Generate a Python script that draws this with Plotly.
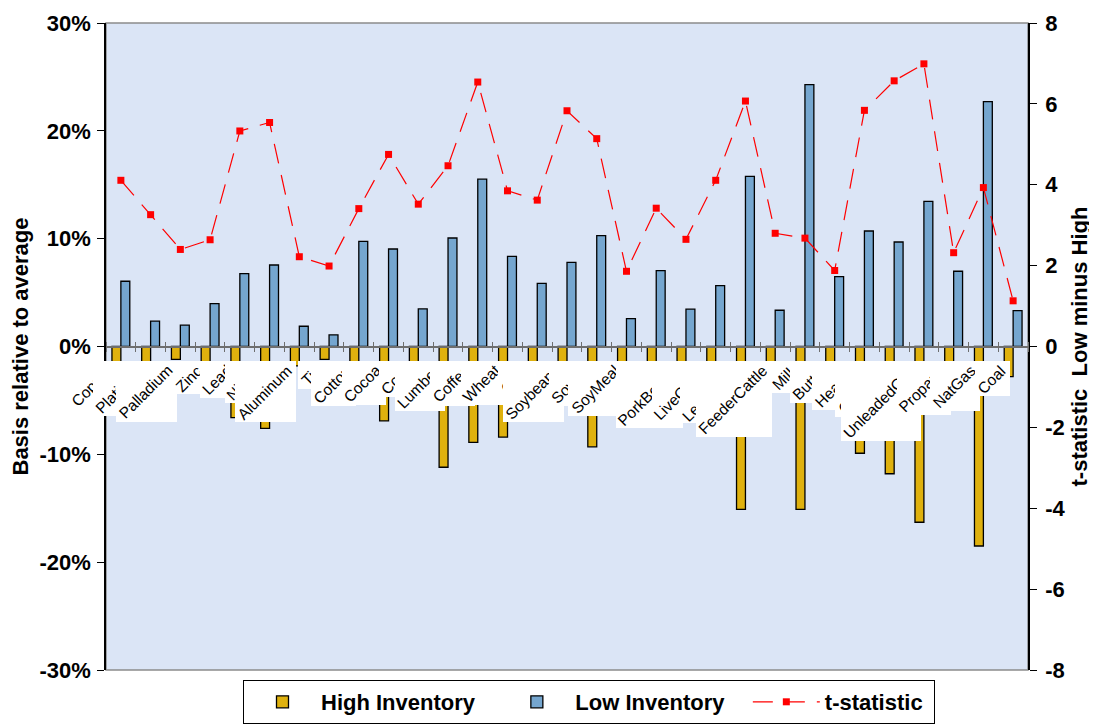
import plotly.graph_objects as go

# ---------------- data ----------------
categories = [
    "Copper", "Platinum", "Palladium", "Zinc", "Lead", "Nickel", "Aluminum", "Tin",
    "Cotton", "Cocoa", "Corn", "Lumber", "Coffee", "Wheat", "Oats", "Soybeans",
    "SoyOil", "SoyMeal", "Rice", "PorkBellies", "LiveCattle", "LeanHogs",
    "FeederCattle", "Milk", "Butter", "HeatOil", "CrudeOil", "UnleadedGas",
    "Propane", "NatGas", "Coal",
]
high_inventory = [
    -2.0, -1.8, -1.2, -1.6, -6.6, -7.6, -1.8, -1.2, -2.2, -6.9, -1.8, -11.2,
    -8.9, -8.4, -2.5, -2.0, -9.3, -2.8, -2.0, -2.5, -3.0, -15.1, -1.8, -15.1,
    -2.5, -9.9, -11.8, -16.3, -3.0, -18.5, -2.8,
]
low_inventory = [
    6.05, 2.35, 1.98, 3.98, 6.76, 7.56, 1.88, 1.08, 9.75, 9.04, 3.49, 10.06,
    15.52, 8.36, 5.86, 7.81, 10.28, 2.59, 7.04, 3.46, 5.65, 15.77, 3.36, 24.29,
    6.48, 10.71, 9.69, 13.46, 6.98, 22.71, 3.33,
]
t_statistic = [
    4.11, 3.26, 2.40, 2.64, 5.33, 5.54, 2.22, 1.99, 3.41, 4.75, 3.52, 4.47,
    6.54, 3.85, 3.62, 5.83, 5.14, 1.86, 3.42, 2.65, 4.11, 6.07, 2.80, 2.68,
    1.88, 5.84, 6.57, 6.99, 2.32, 3.93, 1.13,
]
series_names = ["High Inventory", "Low Inventory", "t-statistic"]
left_tickvals = [-30, -20, -10, 0, 10, 20, 30]
left_ticktext = ["-30%", "-20%", "-10%", "0%", "10%", "20%", "30%"]
right_tickvals = [-8, -6, -4, -2, 0, 2, 4, 6, 8]
right_ticktext = ["-8", "-6", "-4", "-2", "0", "2", "4", "6", "8"]

# ---------------- style ----------------
FONT = "Liberation Sans, Arial, sans-serif"
GOLD = "#DFB10E"
BLUE = "#75A6CF"
PLOT_BG = "#DBE5F6"
AXIS_GRAY = "#6E6E6E"
LABEL_SIZE = 15.5
BOLD_SIZE = 22
NBSP = "\u00a0"
PAGE_OFFSET = 8  # default body margin of the html page

# Arial/Liberation Sans advance widths (per 1000 em)
CHAR_W = {
    'A': 667, 'B': 667, 'C': 722, 'D': 722, 'E': 667, 'F': 611, 'G': 778, 'H': 722,
    'I': 278, 'J': 500, 'K': 667, 'L': 556, 'M': 833, 'N': 722, 'O': 778, 'P': 667,
    'Q': 778, 'R': 722, 'S': 667, 'T': 611, 'U': 722, 'V': 667, 'W': 944, 'X': 667,
    'Y': 667, 'Z': 611,
    'a': 556, 'b': 556, 'c': 500, 'd': 556, 'e': 556, 'f': 278, 'g': 556, 'h': 556,
    'i': 222, 'j': 222, 'k': 500, 'l': 222, 'm': 833, 'n': 556, 'o': 556, 'p': 556,
    'q': 556, 'r': 333, 's': 500, 't': 278, 'u': 556, 'v': 500, 'w': 722, 'x': 500,
    'y': 500, 'z': 500, ' ': 278,
}


def text_width(s, size):
    return sum(CHAR_W.get(c, 556) for c in s) * size / 1000.0


fig = go.Figure()

fig.add_trace(go.Bar(
    x=categories, y=high_inventory, name=series_names[0] + NBSP * 3,
    marker=dict(color=GOLD, line=dict(color="black", width=1.3)),
))
fig.add_trace(go.Bar(
    x=categories, y=low_inventory, name=series_names[1] + NBSP * 3,
    marker=dict(color=BLUE, line=dict(color="black", width=1.3)),
))
fig.add_trace(go.Scatter(
    x=categories, y=t_statistic, name=series_names[2] + NBSP, yaxis="y2",
    mode="lines+markers",
    line=dict(color="#FF0000", width=1.2, dash="20px,12px"),
    marker=dict(symbol="square", size=7, color="#FF0000"),
))
# helper trace so that the upper half of the crossing category ticks is drawn
fig.add_trace(go.Scatter(
    x=categories, y=[None] * len(categories), xaxis="x2", yaxis="y",
    showlegend=False, hoverinfo="skip", mode="markers",
))

# category labels: rotated text, each on its own unrotated white box
annotations = []
for cat in categories:
    w = text_width(cat, LABEL_SIZE)
    side = (w + LABEL_SIZE * 1.05) * 0.7071 + 1
    annotations.append(dict(
        x=cat, y=0, xref="x", yref="y", xanchor="right", yanchor="top",
        xshift=-3, yshift=-14, text=" ", width=side, height=side,
        bgcolor="white", borderpad=0, borderwidth=0, showarrow=False,
    ))
    annotations.append(dict(
        x=cat, y=0, xref="x", yref="y", xanchor="right", yanchor="top",
        xshift=-3, yshift=-14, text=cat, textangle=-45, borderpad=0,
        font=dict(family=FONT, size=LABEL_SIZE, color="black"), showarrow=False,
    ))

n = len(categories)
common_x = dict(
    type="category", categoryorder="array", categoryarray=categories,
    range=[-0.5, n - 0.5], tickson="boundaries", showgrid=False, zeroline=False,
    showticklabels=False, ticks="outside", ticklen=5, tickwidth=1.3,
    tickcolor=AXIS_GRAY, anchor="free", position=0.5, automargin=False,
)
bold = dict(family=FONT, size=BOLD_SIZE, weight="bold", color="black")

W, H = 1097 - PAGE_OFFSET, 727 - PAGE_OFFSET
L, R, T, B = 106 - PAGE_OFFSET, 69, 23 - PAGE_OFFSET, 57
plot_h = H - T - B

fig.update_layout(
    width=W, height=H,
    margin=dict(l=L, r=R, t=T, b=B, autoexpand=False),
    paper_bgcolor="white", plot_bgcolor=PLOT_BG,
    font=dict(family=FONT, color="black"),
    barmode="group", bargap=0.4, bargroupgap=0,
    showlegend=True,
    xaxis=dict(**common_x, side="bottom", showline=True, linecolor=AXIS_GRAY, linewidth=1.6),
    xaxis2=dict(**common_x, side="top", overlaying="x", showline=False),
    yaxis=dict(
        range=[-30, 30], tickvals=left_tickvals, ticktext=left_ticktext,
        showgrid=False, zeroline=False, showline=True, linecolor="black", linewidth=1.5,
        ticks="outside", ticklen=7, tickcolor="black", automargin=False,
        tickfont=bold, ticklabelstandoff=2,
        title=dict(text="Basis relative to average", font=bold, standoff=14),
    ),
    yaxis2=dict(
        range=[-8, 8], tickvals=right_tickvals, ticktext=right_ticktext,
        overlaying="y", side="right", anchor="x",
        showgrid=False, zeroline=False, showline=True, linecolor="black", linewidth=1.5,
        ticks="outside", ticklen=7, tickcolor="black", automargin=False,
        tickfont=bold, ticklabelstandoff=4,
        title=dict(text="t-statistic\u00a0 Low minus High", font=bold, standoff=7),
    ),
    legend=dict(
        orientation="h", x=(243 - 106) / (W - L - R), xanchor="left",
        y=-10 / plot_h, yanchor="top",
        bgcolor="white", bordercolor="black", borderwidth=1,
        font=bold, itemwidth=67,
    ),
    shapes=[dict(
        type="rect", xref="paper", yref="paper", x0=0, x1=1, y0=0, y1=1,
        line=dict(color="#8C8C8C", width=1.5), layer="below",
    )],
    annotations=annotations,
)

fig.write_html("out.html")
